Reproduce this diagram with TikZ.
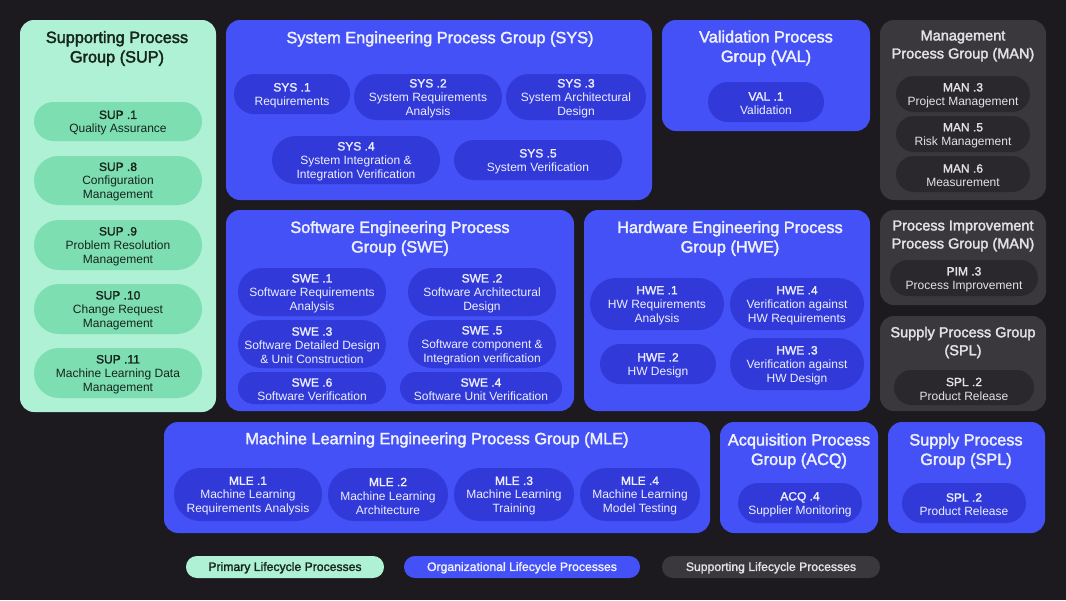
\documentclass[tikz,border=0pt]{standalone}
\usepackage{fontspec}
\setmainfont{Liberation Sans}
\newfontfamily\semib[FakeBold=1.6]{Liberation Sans}
\newfontfamily\titleb[FakeBold=2.2]{Liberation Sans}
\definecolor{bgc}{HTML}{1C1A1E}
\definecolor{gpanel}{HTML}{AEF1D5}
\definecolor{gpill}{HTML}{7DDFB1}
\definecolor{gtext}{HTML}{17241E}
\definecolor{bpanel}{HTML}{4351F6}
\definecolor{bpill}{HTML}{3139D9}
\definecolor{btext}{HTML}{EEF0FF}
\definecolor{kpanel}{HTML}{3A383C}
\definecolor{kpill}{HTML}{2A282C}
\definecolor{ktext}{HTML}{E2E2E4}
\tikzset{
  panel/.style={rectangle, rounded corners=14pt, inner sep=0pt, draw=none},
  greenpanel/.style={panel, fill=gpanel},
  bluepanel/.style={panel, fill=bpanel},
  graypanel/.style={panel, fill=kpanel},
  pillshape/.style={rectangle, inner sep=0pt, draw=none},
  greenpill/.style={pillshape, fill=gpill},
  bluepill/.style={pillshape, fill=bpill},
  graypill/.style={pillshape, fill=kpill},
  pilltext/.style={inner sep=0pt, align=center, font=\fontsize{12}{14}\selectfont},
  greenpilltext/.style={pilltext, text=gtext},
  bluepilltext/.style={pilltext, text=btext},
  graypilltext/.style={pilltext, text=ktext},
  titlebase/.style={inner sep=0pt, align=center, font=\fontsize{16.3}{19.5}\titleb},
  gtitle/.style={titlebase, text=gtext},
  btitle/.style={titlebase, text=btext},
  ktitle/.style={inner sep=0pt, align=center, font=\fontsize{14.5}{18}\titleb, text=ktext},
  legendbase/.style={rectangle, rounded corners=10.9pt, inner sep=0pt, align=center, minimum height=22pt},
  legendtext/.style={inner sep=0pt, font=\fontsize{12.2}{14}\semib},
}
\newcommand\panelnode[6]{%
  \node[#2, minimum width=#5pt-#3pt, minimum height=#6pt-#4pt] (#1) at ({(#3+#5)/2},{(#4+#6)/2}) {};}
% name, colour prefix, x1, y1, x2, y2, code, text
\newcommand\pillnode[8]{%
  \pgfmathsetmacro\pillr{(#6-#4)/2-0.05}%
  \node[#2pill, minimum width=#5pt-#3pt, minimum height=#6pt-#4pt, rounded corners=\pillr pt] (#1) at ({(#3+#5)/2},{(#4+#6)/2}) {};
  \node[#2pilltext] (#1t) at ([yshift=-1.5pt]#1.center) {{\semib #7}\\#8};}
\begin{document}
\begin{tikzpicture}[x=1pt,y=-1pt]
\fill[bgc] (0,0) rectangle (1066,600);
\useasboundingbox (0,0) rectangle (1066,600);

% ---------- SUP ----------
\panelnode{sup}{greenpanel}{20}{20}{216}{412}
\node[gtitle] (supt) at (117,48.5) {Supporting Process\\Group (SUP)};
\pillnode{sup1}{green}{34}{102}{202}{141}{SUP .1}{Quality Assurance}
\pillnode{sup8}{green}{34}{156}{202}{205}{SUP .8}{Configuration\\Management}
\pillnode{sup9}{green}{34}{220}{202}{270}{SUP .9}{Problem Resolution\\Management}
\pillnode{sup10}{green}{34}{284}{202}{334}{SUP .10}{Change Request\\Management}
\pillnode{sup11}{green}{34}{348}{202}{398}{SUP .11}{Machine Learning Data\\Management}

% ---------- SYS ----------
\panelnode{sys}{bluepanel}{226}{20}{652}{200}
\node[btitle] (syst) at (440,39) {System Engineering Process Group (SYS)};
\pillnode{sys1}{blue}{234}{74}{350}{114}{SYS .1}{Requirements}
\pillnode{sys2}{blue}{354}{74}{502}{120}{SYS .2}{System Requirements\\Analysis}
\pillnode{sys3}{blue}{506}{74}{646}{120}{SYS .3}{System Architectural\\Design}
\pillnode{sys4}{blue}{272}{136}{440}{184}{SYS .4}{System Integration \&\\Integration Verification}
\pillnode{sys5}{blue}{454}{140}{622}{180}{SYS .5}{System Verification}

% ---------- VAL ----------
\panelnode{val}{bluepanel}{662}{20}{870}{131}
\node[btitle] (valt) at (766,48) {Validation Process\\Group (VAL)};
\pillnode{val1}{blue}{708}{82}{824}{122}{VAL .1}{Validation}

% ---------- MAN ----------
\panelnode{man}{graypanel}{880}{20}{1046}{200}
\node[ktitle] (mant) at (963,46) {Management\\Process Group (MAN)};
\pillnode{man3}{gray}{896}{76}{1030}{112}{MAN .3}{Project Management}
\pillnode{man5}{gray}{896}{116}{1030}{152}{MAN .5}{Risk Management}
\pillnode{man6}{gray}{896}{156}{1030}{192}{MAN .6}{Measurement}

% ---------- PIM ----------
\panelnode{pim}{graypanel}{880}{210}{1046}{305}
\node[ktitle] (pimt) at (963,236) {Process Improvement\\Process Group (MAN)};
\pillnode{pim3}{gray}{890}{260}{1038}{296}{PIM .3}{Process Improvement}

% ---------- SPL (gray) ----------
\panelnode{splk}{graypanel}{880}{316}{1046}{411}
\node[ktitle] (splkt) at (963,342.5) {Supply Process Group\\(SPL)};
\pillnode{splk2}{gray}{894}{370}{1034}{405}{SPL .2}{Product Release}

% ---------- SWE ----------
\panelnode{swe}{bluepanel}{226}{210}{574}{411}
\node[btitle] (swet) at (400,238.5) {Software Engineering Process\\Group (SWE)};
\pillnode{swe1}{blue}{238}{268}{386}{316}{SWE .1}{Software Requirements\\Analysis}
\pillnode{swe2}{blue}{408}{268}{556}{316}{SWE .2}{Software Architectural\\Design}
\pillnode{swe3}{blue}{238}{320}{386}{368}{SWE .3}{Software Detailed Design\\\& Unit Construction}
\pillnode{swe5}{blue}{408}{320}{556}{368}{SWE .5}{Software component \&\\Integration verification}
\pillnode{swe6}{blue}{238}{372}{386}{404}{SWE .6}{Software Verification}
\pillnode{swe4}{blue}{400}{372}{562}{404}{SWE .4}{Software Unit Verification}

% ---------- HWE ----------
\panelnode{hwe}{bluepanel}{584}{210}{870}{411}
\node[btitle] (hwet) at (730,238.5) {Hardware Engineering Process\\Group (HWE)};
\pillnode{hwe1}{blue}{590}{278}{724}{330}{HWE .1}{HW Requirements\\Analysis}
\pillnode{hwe4}{blue}{730}{278}{864}{330}{HWE .4}{Verification against\\HW Requirements}
\pillnode{hwe2}{blue}{600}{344}{716}{384}{HWE .2}{HW Design}
\pillnode{hwe3}{blue}{730}{338}{864}{390}{HWE .3}{Verification against\\HW Design}

% ---------- MLE ----------
\panelnode{mle}{bluepanel}{164}{422}{710}{533}
\node[btitle] (mlet) at (437,440) {Machine Learning Engineering Process Group (MLE)};
\pillnode{mle1}{blue}{174}{468}{322}{521}{MLE .1}{Machine Learning\\Requirements Analysis}
\pillnode{mle2}{blue}{328}{468}{448}{521}{MLE .2}{Machine Learning\\Architecture}
\pillnode{mle3}{blue}{454}{468}{574}{521}{MLE .3}{Machine Learning\\Training}
\pillnode{mle4}{blue}{580}{468}{700}{521}{MLE .4}{Machine Learning\\Model Testing}

% ---------- ACQ ----------
\panelnode{acq}{bluepanel}{720}{422}{878}{533}
\node[btitle] (acqt) at (799,451) {Acquisition Process\\Group (ACQ)};
\pillnode{acq4}{blue}{738}{483}{862}{523}{ACQ .4}{Supplier Monitoring}

% ---------- SPL (blue) ----------
\panelnode{splb}{bluepanel}{888}{422}{1045}{533}
\node[btitle] (splbt) at (966,451) {Supply Process\\Group (SPL)};
\pillnode{splb2}{blue}{902}{483}{1026}{523}{SPL .2}{Product Release}

% ---------- Legend ----------
\node[legendbase, fill=gpanel, minimum width=198pt] (leg1) at (285,567) {};
\node[legendtext, text=gtext] (leg1t) at ([yshift=-0.8pt]leg1.center) {Primary Lifecycle Processes};
\node[legendbase, fill=bpanel, minimum width=236pt] (leg2) at (522,567) {};
\node[legendtext, text=btext] (leg2t) at ([yshift=-0.8pt]leg2.center) {Organizational Lifecycle Processes};
\node[legendbase, fill=kpanel, minimum width=218pt] (leg3) at (771,567) {};
\node[legendtext, text=ktext] (leg3t) at ([yshift=-0.8pt]leg3.center) {Supporting Lifecycle Processes};
\end{tikzpicture}
\end{document}
